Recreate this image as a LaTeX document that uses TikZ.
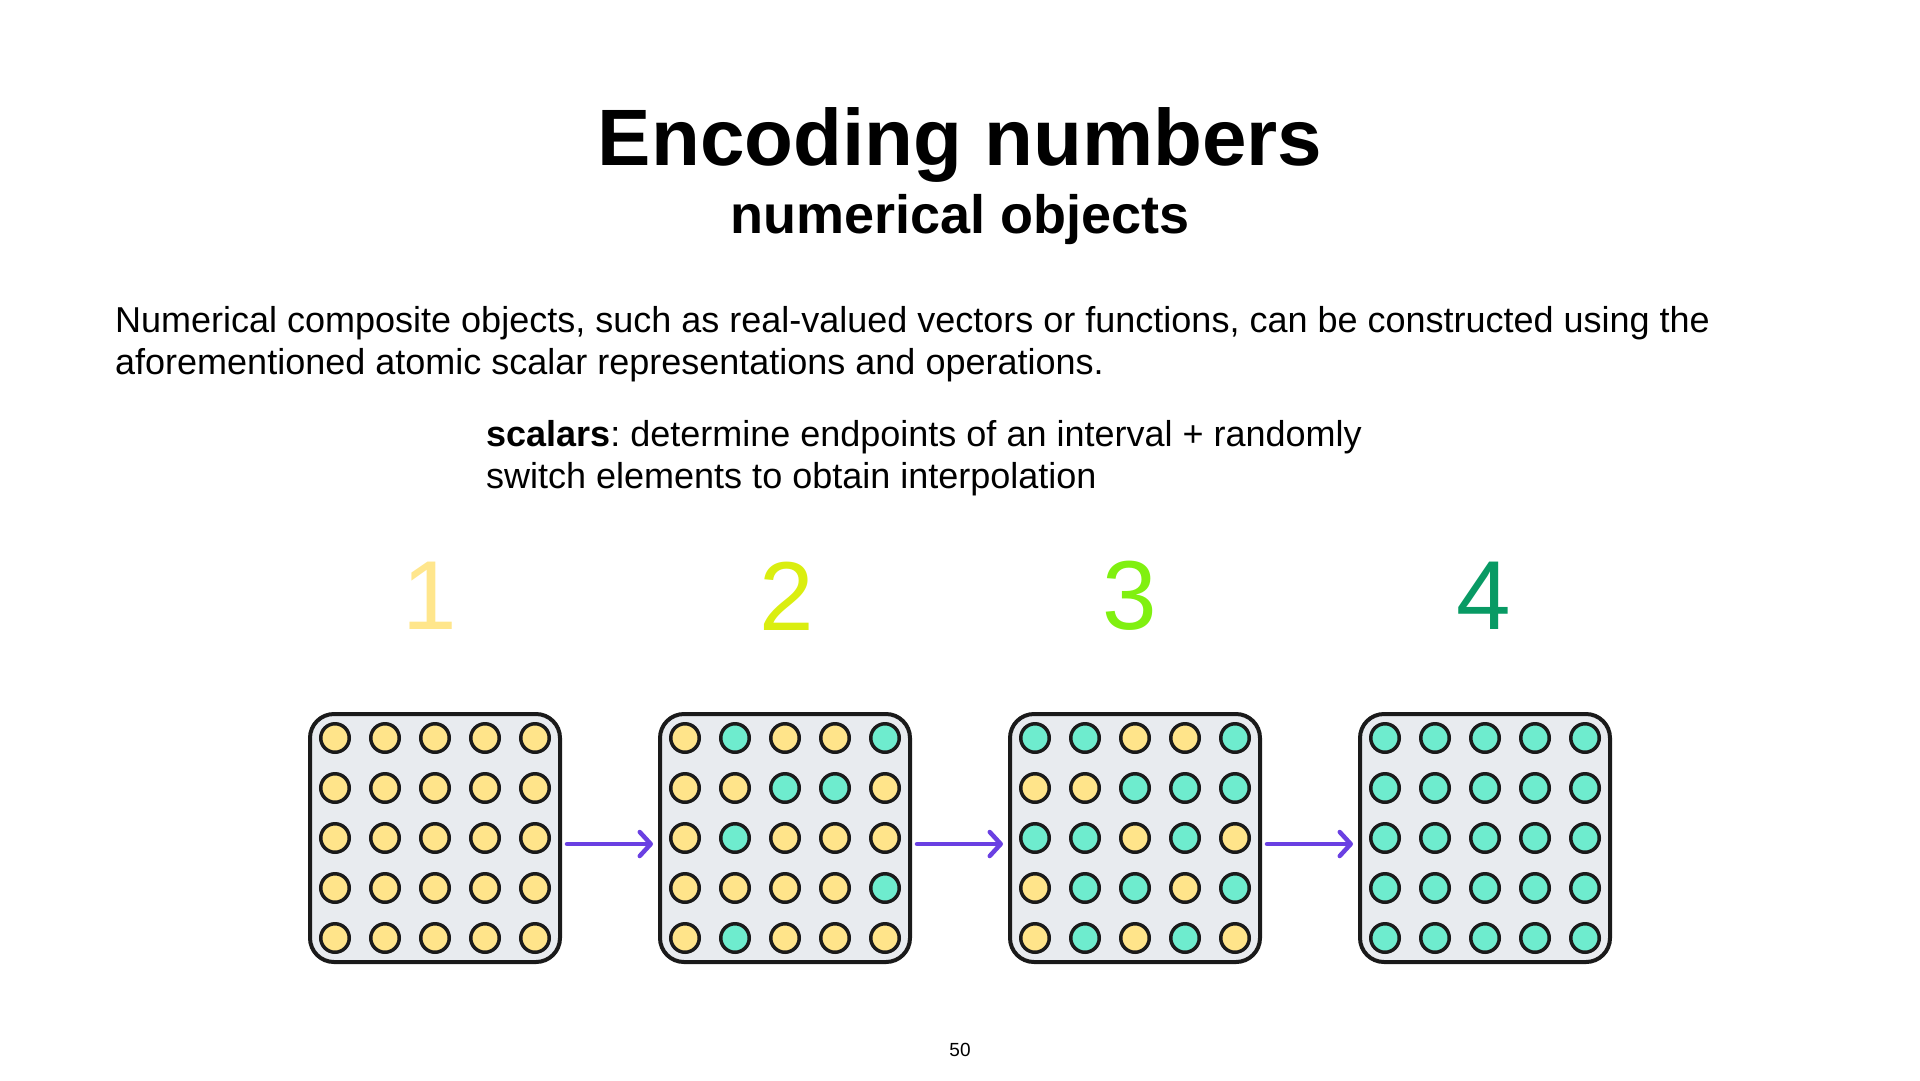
\documentclass[tikz,border=0pt]{standalone}
\usepackage{fontspec}
\setmainfont{Liberation Sans}
\usetikzlibrary{arrows.meta,positioning,calc}
\definecolor{dotY}{RGB}{255,228,138}
\definecolor{dotT}{RGB}{110,236,206}
\definecolor{dotline}{RGB}{26,26,26}
\definecolor{boxgray}{RGB}{232,235,239}
\definecolor{arrowpurple}{RGB}{106,64,226}
\definecolor{numone}{RGB}{255,230,140}
\definecolor{numtwo}{RGB}{218,238,16}
\definecolor{numthree}{RGB}{128,240,16}
\definecolor{numfour}{RGB}{8,154,100}

\tikzset{
  gridbox/.style={rectangle, rounded corners=24pt, draw=dotline, fill=boxgray, line width=4pt, minimum width=250pt, minimum height=248pt},
  dot/.style={circle, draw=dotline, line width=3.5pt, minimum size=28.5pt, inner sep=0pt},
  stepnum/.style={font=\fontsize{98}{100}\selectfont, anchor=center},
  steparrow/.style={->, arrowpurple, line width=4.5pt, line cap=round, shorten <=5pt, shorten >=5pt}
}

\begin{document}
\frenchspacing
\begin{tikzpicture}[x=1pt, y=-1pt, >={Straight Barb[length=11pt, width=24pt, round]}]
\useasboundingbox (0,0) rectangle (1920,1080);
% heading
\node[anchor=base, font=\fontsize{80}{90}\selectfont\bfseries] (title) at (960,165) {Encoding numbers};
\node[anchor=base, font=\fontsize{54}{60}\selectfont\bfseries] (subtitle) at (960,233) {numerical objects};
\node[anchor=base west, align=left, font=\fontsize{36}{42}\selectfont, inner sep=0pt] (intro) at (115,374) {Numerical composite objects, such as real-valued vectors or functions, can be constructed using the\\aforementioned atomic scalar representations and operations.};
\node[anchor=base west, align=left, font=\fontsize{36}{42}\selectfont, inner sep=0pt] (scalars) at (486,488) {\textbf{scalars}: determine endpoints of an interval + randomly\\switch elements to obtain interpolation};
% step numbers
\node[stepnum, text=numone] (n1) at (430,596) {1};
\node[stepnum, text=numtwo] (n2) at (787,596) {2};
\node[stepnum, text=numthree] (n3) at (1130,596) {3};
\node[stepnum, text=numfour] (n4) at (1484,596) {4};
% grids
\foreach \g/\cx in {1/435,2/785,3/1135,4/1485}
  \node[gridbox] (g\g) at (\cx,838) {};
\foreach \r in {1,...,5}
  \foreach \k in {1,...,5}
    \node[dot, fill=dotY] (g1d\r\k) at ({285+50*\k},{688+50*\r}) {};
\foreach \r/\row in {1/{Y,T,Y,Y,T},2/{Y,Y,T,T,Y},3/{Y,T,Y,Y,Y},4/{Y,Y,Y,Y,T},5/{Y,T,Y,Y,Y}}
  \foreach \c [count=\k] in \row
    \node[dot, fill=dot\c] (g2d\r\k) at ({635+50*\k},{688+50*\r}) {};
\foreach \r/\row in {1/{T,T,Y,Y,T},2/{Y,Y,T,T,T},3/{T,T,Y,T,Y},4/{Y,T,T,Y,T},5/{Y,T,Y,T,Y}}
  \foreach \c [count=\k] in \row
    \node[dot, fill=dot\c] (g3d\r\k) at ({985+50*\k},{688+50*\r}) {};
\foreach \r in {1,...,5}
  \foreach \k in {1,...,5}
    \node[dot, fill=dotT] (g4d\r\k) at ({1335+50*\k},{688+50*\r}) {};
% arrows
\draw[steparrow] ([yshift=-6pt]g1.east) -- ([yshift=-6pt]g2.west);
\draw[steparrow] ([yshift=-6pt]g2.east) -- ([yshift=-6pt]g3.west);
\draw[steparrow] ([yshift=-6pt]g3.east) -- ([yshift=-6pt]g4.west);
% page number
\node[font=\fontsize{19}{22}\selectfont] (page) at (960,1050) {50};
\end{tikzpicture}
\end{document}
